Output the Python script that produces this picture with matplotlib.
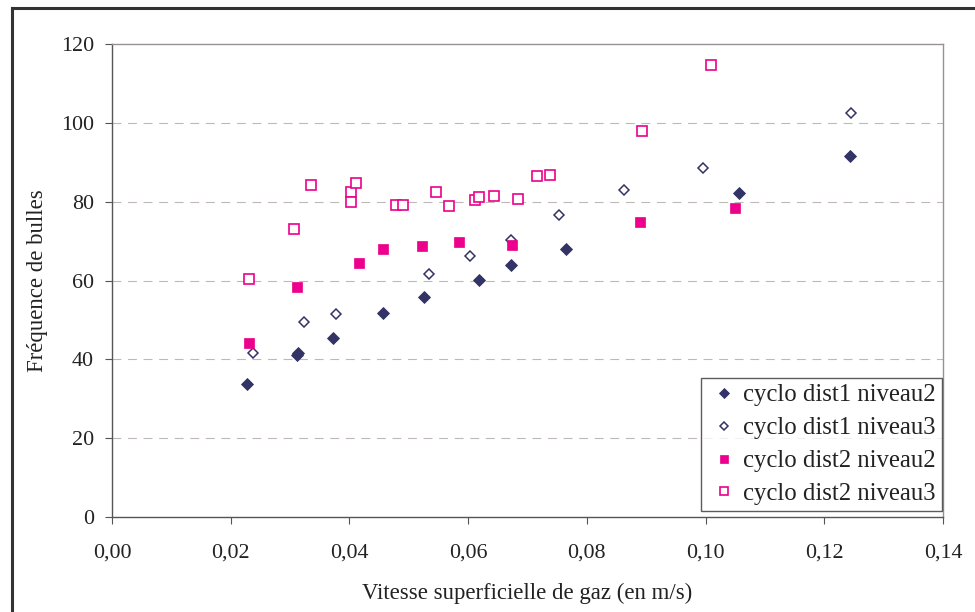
import matplotlib
matplotlib.use('Agg')
import matplotlib.pyplot as plt
from matplotlib.lines import Line2D
from matplotlib.ticker import FuncFormatter

# values
x_d1n2 = [0.0227, 0.0312, 0.0314, 0.0372, 0.0457, 0.0526, 0.0618, 0.0672, 0.0765, 0.1056, 0.1244]
y_d1n2 = [33.7, 41.0, 41.6, 45.4, 51.7, 55.7, 60.2, 64.0, 68.0, 82.3, 91.6]

x_d1n3 = [0.0237, 0.0324, 0.0377, 0.0534, 0.0603, 0.0673, 0.0753, 0.0863, 0.0996, 0.1245]
y_d1n3 = [41.7, 49.5, 51.4, 61.6, 66.3, 70.4, 76.7, 82.9, 88.6, 102.6]

x_d2n2 = [0.0230, 0.0312, 0.0416, 0.0457, 0.0523, 0.0585, 0.0674, 0.0889, 0.1050]
y_d2n2 = [44.2, 58.3, 64.4, 68.1, 68.8, 69.7, 69.0, 74.8, 78.5]

x_d2n3 = [0.0231, 0.0307, 0.0335, 0.0403, 0.0403, 0.0411, 0.0479, 0.0491, 0.0546, 0.0567,
          0.0612, 0.0618, 0.0644, 0.0684, 0.0716, 0.0738, 0.0893, 0.1009]
y_d2n3 = [60.3, 73.0, 84.3, 82.4, 80.0, 84.7, 79.2, 79.2, 82.5, 79.0,
          80.5, 81.1, 81.5, 80.8, 86.5, 86.8, 98.0, 114.7]

labels = ['cyclo dist1 niveau2', 'cyclo dist1 niveau3', 'cyclo dist2 niveau2', 'cyclo dist2 niveau3']
x_ticks = [0.00, 0.02, 0.04, 0.06, 0.08, 0.10, 0.12, 0.14]
y_ticks = [0, 20, 40, 60, 80, 100, 120]

navy = '#333366'
pink = '#EC008C'

plt.rcParams['font.family'] = ['Liberation Serif', 'DejaVu Serif']

fig = plt.figure(figsize=(9.75, 6.12), dpi=100)
ax = fig.add_axes([112/975, 1-517/612, 831/975, 473/612])

ax.plot(x_d1n2, y_d1n2, 'D', ms=6, color=navy, mec=navy, mew=0.6, label=labels[0], zorder=3)
ax.plot(x_d1n3, y_d1n3, 'D', ms=5.6, mfc='white', mec=navy, mew=1.1, label=labels[1], zorder=3)
ax.plot(x_d2n2, y_d2n2, 's', ms=7.6, color=pink, mec=pink, mew=0.5, label=labels[2], zorder=4)
ax.plot(x_d2n3, y_d2n3, 's', ms=7.2, mfc='white', mec=pink, mew=1.2, label=labels[3], zorder=4)

ax.set_xlim(0, 0.14)
ax.set_ylim(0, 120)
ax.set_xticks(x_ticks)
ax.set_yticks(y_ticks)
ax.xaxis.set_major_formatter(FuncFormatter(lambda v, p: ('%.2f' % v).replace('.', ',')))

for y in y_ticks[1:-1]:
    ax.axhline(y, color='#C0B8B8', lw=0.8, ls=(0, (8, 6)), zorder=1)

for side in ['top', 'right']:
    ax.spines[side].set_color('#9A9090')
    ax.spines[side].set_linewidth(1.0)
for side in ['left', 'bottom']:
    ax.spines[side].set_color('#555555')
    ax.spines[side].set_linewidth(1.0)

ax.tick_params(axis='x', direction='out', length=5, width=0.8, color='#555555',
               labelsize=15.8, labelcolor='#222222', pad=14)
ax.tick_params(axis='y', direction='out', length=5, width=0.8, color='#555555',
               labelsize=15.8, labelcolor='#222222', pad=8)

ax.set_xlabel('Vitesse superficielle de gaz (en m/s)', fontsize=16.4, color='#222222', labelpad=15)
ax.set_ylabel('Fréquence de bulles', fontsize=16.4, color='#222222', labelpad=9)

leg = ax.legend(loc='lower right', bbox_to_anchor=(0.9985, 0.012), fontsize=17.8,
                frameon=True, fancybox=False, borderpad=0.25, labelspacing=0.43,
                handlelength=1.4, handletextpad=0.05, borderaxespad=0, markerscale=0.8)
leg.get_frame().set_edgecolor('#333333')
leg.get_frame().set_linewidth(1.0)
for t in leg.get_texts():
    t.set_color('#222222')

# outer frame of the chart object
fig.add_artist(Line2D([11.5/975, 11.5/975], [0, 1-7.5/612], color='#333333', lw=2.2, transform=fig.transFigure))
fig.add_artist(Line2D([11.5/975, 1], [1-7.5/612, 1-7.5/612], color='#333333', lw=2.2, transform=fig.transFigure))

fig.savefig('out.png', dpi=100, facecolor='white')
